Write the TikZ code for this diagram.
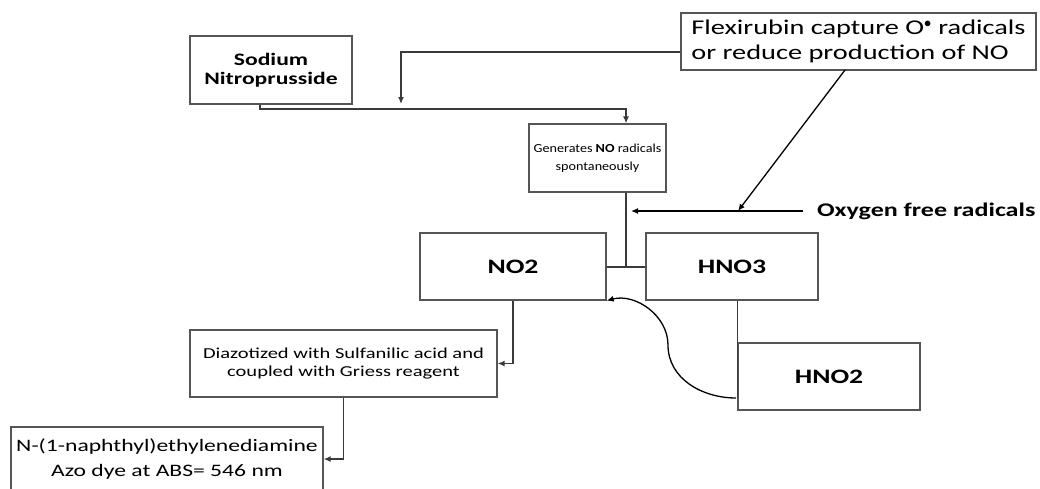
\documentclass[tikz,border=0pt]{standalone}
\usepackage{fontspec}
\setmainfont{Carlito}
\newfontfamily\widefont{Carlito}[FakeStretch=1.35]
\newfontfamily\midfont{Carlito}[FakeStretch=1.15]
\usetikzlibrary{arrows.meta}

\definecolor{boxgray}{HTML}{555555}
\definecolor{linegray}{HTML}{3A3A3A}

\begin{document}
\begin{tikzpicture}[
  x=1pt,
  y=-1pt,
  box/.style={draw=boxgray,line width=1.3pt,fill=white,inner sep=0pt,align=center},
  link/.style={draw=linegray,line width=1.3pt},
  arr/.style={link,-{Latex[length=7pt,width=6pt]}},
  chem/.style={box,minimum height=67,font=\widefont\bfseries\fontsize{20.5}{24}\selectfont}
]
\useasboundingbox (0,0) rectangle (1040,488);

% boxes
\node[box,minimum width=162,minimum height=68,
  font=\widefont\bfseries\fontsize{17.5}{19.5}\selectfont] (sodium) at (271,70)
  {Sodium\\Nitroprusside};
\node[box,minimum width=137,minimum height=68,
  font=\midfont\fontsize{12.3}{18.5}\selectfont] (generates) at (597.5,158)
  {Generates \textbf{NO} radicals\\spontaneously};
\node[box,minimum width=355,minimum height=57,align=left,
  font=\widefont\fontsize{21}{25}\selectfont] (flexirubin) at (858.5,41.5)
  {Flexirubin capture O$^{\bullet}$ radicals\\or reduce production of NO};
\node[font=\widefont\bfseries\fontsize{19.3}{22}\selectfont,anchor=west,inner sep=0pt]
  (oxygen) at (817,211) {Oxygen free radicals};
\node[chem,minimum width=186] (no2) at (513,266.5) {NO2};
\node[chem,minimum width=172] (hno3) at (732,266.5) {HNO3};
\node[chem,minimum width=182] (hno2) at (829,376.5) {HNO2};
\node[box,minimum width=307,minimum height=67,
  font=\widefont\fontsize{15.2}{18.5}\selectfont] (griess) at (343.5,363.5)
  {Diazotized with Sulfanilic acid and\\coupled with Griess reagent};
\node[box,minimum width=312,minimum height=64,
  font=\widefont\fontsize{17.5}{25}\selectfont] (azo) at (167,459)
  {N-(1-naphthyl)ethylenediamine\\Azo dye at ABS= 546 nm};

% junction points
\coordinate (split) at (260,109);
\coordinate (feed) at (401,52);
\coordinate (feedend) at (401,104);
\coordinate (stem) at (626,267);
\coordinate (hit) at (631,211);
\coordinate (foot) at (845,70);
\coordinate (scav) at (738,211);
\coordinate (loop) at (736,398);
\coordinate (bend) at (668,345);

% connectors
\draw[arr] (sodium.south -| split) -- (split) -| (generates.north -| stem);
\draw[arr] (flexirubin.west |- feed) -| (feedend);
\draw[link] (generates.south -| stem) -- (stem);
\draw[link] (no2.east |- stem) -- (hno3.west |- stem);
\draw[arr,draw=black] ([xshift=-14pt]oxygen.west) -- (hit);
\draw[arr,draw=black] (foot) -- (scav);
\draw[arr] (no2.south) |- (griess.east);
\draw[arr] (griess.south) |- (azo.east);
\draw[link] (hno3.south -| hno2.west) -- (hno2.west |- loop);
\draw[arr,draw=black] (loop) to[out=180,in=-90] (bend)
  to[out=90,in=15] (no2.south east);
\end{tikzpicture}
\end{document}
